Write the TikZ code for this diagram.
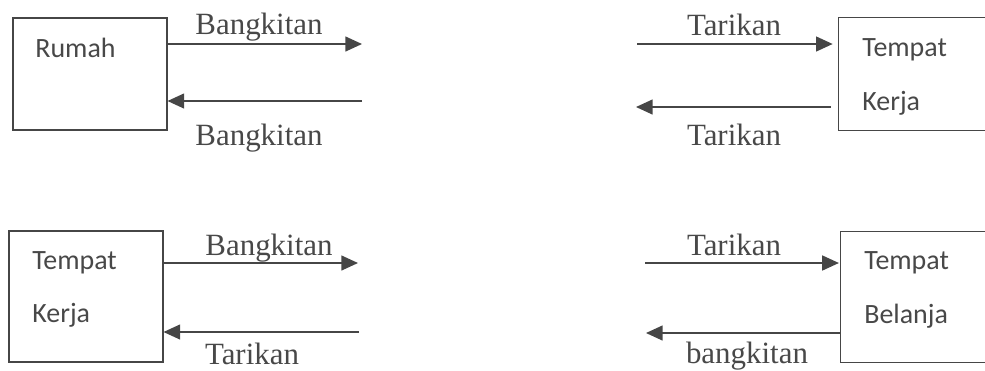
\documentclass[tikz,border=0pt]{standalone}
\usepackage{fontspec}
\setmainfont{Liberation Serif}
\newfontfamily\calibri{Carlito}
\usetikzlibrary{arrows.meta,positioning}
\definecolor{linegray}{RGB}{70,70,70}
\definecolor{textgray}{RGB}{72,72,72}

\begin{document}
\begin{tikzpicture}[x=0.02cm, y=-0.02cm,
    zone/.style={draw=linegray, line width=0.6pt, minimum width=3.08cm, inner sep=0pt},
    zonetext/.style={anchor=base west, inner sep=0pt, text=textgray, font=\calibri\fontsize{15.9pt}{19pt}\selectfont},
    flowtext/.style={anchor=base, inner sep=0pt, text=textgray, font=\fontsize{17.6pt}{21pt}\selectfont},
    arr/.style={-{Triangle[length=9.5pt, width=8.5pt]}, line width=0.95pt, linegray}]

    \useasboundingbox (0,0) rectangle (985,370);

    % Boxes (the right ones are open at the page edge)
    \node[zone, minimum height=2.24cm] (rumah) at (90,74) {};
    \node[minimum width=3.08cm, minimum height=2.24cm, inner sep=0pt] (kerjaA) at (916,74) {};
    \node[zone, minimum height=2.62cm] (kerjaB) at (86,296.5) {};
    \node[minimum width=3.08cm, minimum height=2.60cm, inner sep=0pt] (belanja) at (918,297) {};
    \draw[linegray, line width=0.6pt] (kerjaA.north east) -- (kerjaA.north west)
        -- (kerjaA.south west) -- (kerjaA.south east);
    \draw[linegray, line width=0.6pt] (belanja.north east) -- (belanja.north west)
        -- (belanja.south west) -- (belanja.south east);

    % Box texts
    \node[zonetext] (tRumah) at (35,57) {Rumah};
    \node[zonetext] (tKerjaA1) at (862,56) {Tempat};
    \node[zonetext] (tKerjaA2) at (862,110) {Kerja};
    \node[zonetext] (tKerjaB1) at (32,269) {Tempat};
    \node[zonetext] (tKerjaB2) at (32,322) {Kerja};
    \node[zonetext] (tBelanja1) at (864,269) {Tempat};
    \node[zonetext] (tBelanja2) at (864,323) {Belanja};

    % Free arrow ends
    \coordinate (r1) at (362,44);
    \coordinate (r2) at (362,101);
    \coordinate (k1) at (637,44);
    \coordinate (k2) at (636,107);
    \coordinate (b1) at (358,263);
    \coordinate (b2) at (359,332);
    \coordinate (s1) at (645,263);
    \coordinate (s2) at (646,333);

    % Arrows
    \draw[arr] (rumah.east |- r1) -- (r1);
    \draw[arr] (r2) -- (rumah.east |- r2);
    \draw[arr, shorten >=3.4pt] (k1) -- (kerjaA.west |- k1);
    \draw[arr, shorten <=4.5pt] (kerjaA.west |- k2) -- (k2);
    \draw[arr] (kerjaB.east |- b1) -- (b1);
    \draw[arr] (b2) -- (kerjaB.east |- b2);
    \draw[arr, shorten >=1pt] (s1) -- (belanja.west |- s1);
    \draw[arr] (belanja.west |- s2) -- (s2);

    % Flow labels
    \node[flowtext] (lb1) at (259,34) {Bangkitan};
    \node[flowtext] (lb2) at (259,145) {Bangkitan};
    \node[flowtext] (lt1) at (734,35) {Tarikan};
    \node[flowtext] (lt2) at (734,145) {Tarikan};
    \node[flowtext] (lb3) at (269,255) {Bangkitan};
    \node[flowtext] (lt3) at (252,364) {Tarikan};
    \node[flowtext] (lt4) at (734,255) {Tarikan};
    \node[flowtext] (lb4) at (747,363) {bangkitan};
\end{tikzpicture}
\end{document}
